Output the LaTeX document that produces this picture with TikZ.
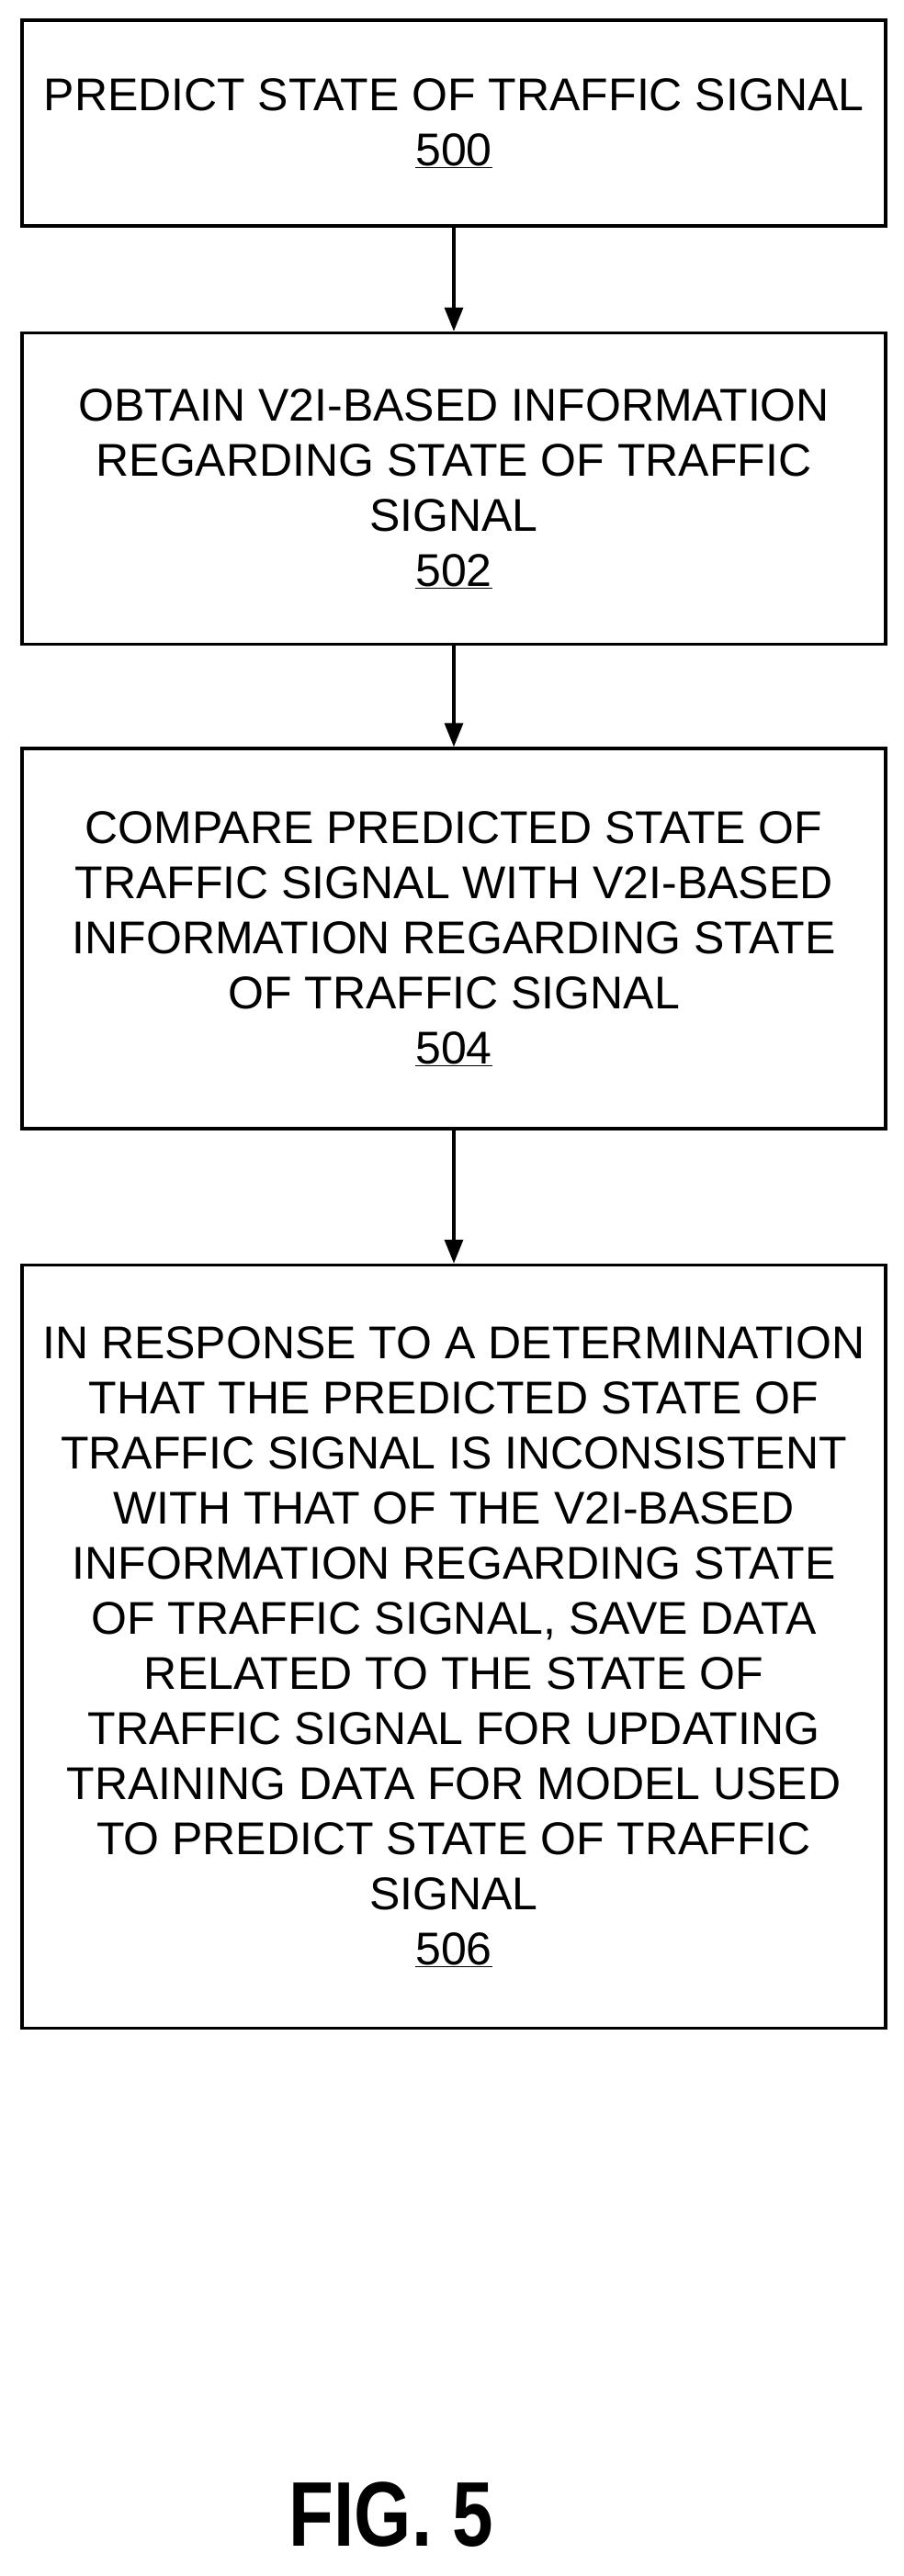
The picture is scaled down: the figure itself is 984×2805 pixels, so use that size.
\documentclass[tikz,border=0pt]{standalone}
\usepackage{fontspec}
\setmainfont{Liberation Sans}
\usetikzlibrary{arrows.meta}
\begin{document}
\begin{tikzpicture}[x=1pt,y=-1pt,
  stepbox/.style={draw,line width=3.5pt,minimum width=940pt,align=center,
    font=\fontsize{50}{60}\selectfont,inner sep=0pt},
  arr/.style={-{Triangle[length=26pt,width=20pt]},line width=3.5pt}]
\useasboundingbox[fill=white] (0,0) rectangle (984,2805);
\node[stepbox,minimum height=224pt] (b0) at (494,134) {PREDICT STATE OF TRAFFIC SIGNAL\\\underline{500}};
\node[stepbox,minimum height=339pt] (b1) at (494,532) {OBTAIN V2I-BASED INFORMATION\\REGARDING STATE OF TRAFFIC\\SIGNAL\\\underline{502}};
\node[stepbox,minimum height=414pt] (b2) at (494,1022) {COMPARE PREDICTED STATE OF\\TRAFFIC SIGNAL WITH V2I-BASED\\INFORMATION REGARDING STATE\\OF TRAFFIC SIGNAL\\\underline{504}};
\node[stepbox,minimum height=831pt] (b3) at (494,1793) {IN RESPONSE TO A DETERMINATION\\THAT THE PREDICTED STATE OF\\TRAFFIC SIGNAL IS INCONSISTENT\\WITH THAT OF THE V2I-BASED\\INFORMATION REGARDING STATE\\OF TRAFFIC SIGNAL, SAVE DATA\\RELATED TO THE STATE OF\\TRAFFIC SIGNAL FOR UPDATING\\TRAINING DATA FOR MODEL USED\\TO PREDICT STATE OF TRAFFIC\\SIGNAL\\\underline{506}};
\draw[arr] (b0) -- (b1);
\draw[arr] (b1) -- (b2);
\draw[arr] (b2) -- (b3);
\node[font=\fontsize{100}{110}\selectfont\bfseries,xscale=0.8] (fig) at (426,2738) {FIG. 5};
\end{tikzpicture}
\end{document}
